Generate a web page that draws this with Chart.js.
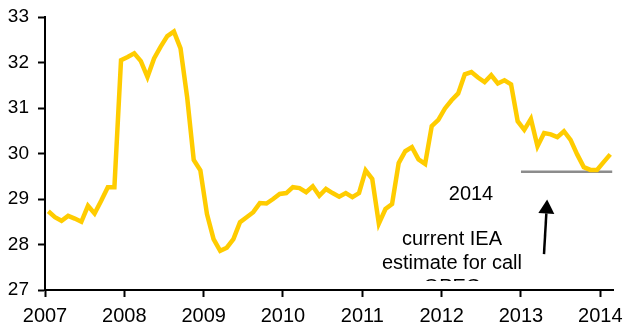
<!DOCTYPE html>
<html>
<head>
<meta charset="utf-8">
<script src="https://cdn.jsdelivr.net/npm/chart.js@4.4.0/dist/chart.umd.min.js"></script>
<style>
  html, body { margin: 0; padding: 0; background: #fff; }
</style>
</head>
<body>
<canvas id="opec-chart" width="628" height="326"></canvas>
<script>
// monthly series, starting Jan 2007
const firstYear = 2007;
const callOnOpec = [
  28.73, 28.60, 28.52, 28.63, 28.57, 28.50, 28.85, 28.68, 28.96, 29.26, 29.26, 32.05,
  32.12, 32.20, 32.03, 31.68, 32.09, 32.35, 32.58, 32.68, 32.31, 31.24, 29.86, 29.63,
  28.67, 28.12, 27.86, 27.93, 28.12, 28.49, 28.60, 28.71, 28.91, 28.90, 29.00, 29.11,
  29.13, 29.26, 29.24, 29.15, 29.28, 29.07, 29.22, 29.13, 29.05, 29.13, 29.04, 29.13,
  29.63, 29.44, 28.46, 28.78, 28.89, 29.79, 30.05, 30.14, 29.87, 29.77, 30.60, 30.74,
  30.99, 31.17, 31.32, 31.74, 31.79, 31.67, 31.57, 31.72, 31.54, 31.61, 31.52, 30.71,
  30.52, 30.76, 30.16, 30.45, 30.42, 30.36, 30.49, 30.30, 29.98, 29.70, 29.64, 29.64,
  29.81, 29.98
];

// IEA estimate for 2014 (flat line)
const ieaYears = [2013.0, 2014.15];
const ieaValue = 29.6;

const xTicks = [2007, 2008, 2009, 2010, 2011, 2012, 2013, 2014];
const yTicks = [27, 28, 29, 30, 31, 32, 33];

const FONT = '"Liberation Sans", Arial, sans-serif';

const seriesPoints = callOnOpec.map((v, i) => ({ x: firstYear + (i + 0.5) / 12, y: v }));
const ieaPoints = ieaYears.map((yr) => ({ x: yr, y: ieaValue }));

// text and arrow drawn over the plot
const notesPlugin = {
  id: 'notes',
  afterDatasetsDraw(chart) {
    const { ctx, scales: { x, y } } = chart;
    ctx.save();
    ctx.fillStyle = '#000';
    ctx.font = '20px ' + FONT;
    ctx.textAlign = 'center';
    ctx.textBaseline = 'middle';

    ctx.fillText('2014', x.getPixelForValue(2012.37), y.getPixelForValue(29.1));
    ctx.fillText('current IEA', x.getPixelForValue(2012.13), y.getPixelForValue(28.11));
    ctx.fillText('estimate for call', x.getPixelForValue(2012.13), y.getPixelForValue(27.58));

    // last line is cut off in the original
    ctx.save();
    ctx.beginPath();
    ctx.rect(0, 0, chart.width, y.getPixelForValue(27.2));
    ctx.clip();
    ctx.fillText('OPEC', x.getPixelForValue(2012.13), y.getPixelForValue(27.05));
    ctx.restore();

    // arrow pointing up at the estimate line
    const x0 = x.getPixelForValue(2013.29), y0 = y.getPixelForValue(27.79);
    const x1 = x.getPixelForValue(2013.33), y1 = y.getPixelForValue(28.99);
    const ang = Math.atan2(y1 - y0, x1 - x0);
    const headLen = 14, headW = 8;
    const bx = x1 - headLen * Math.cos(ang), by = y1 - headLen * Math.sin(ang);
    ctx.strokeStyle = '#000';
    ctx.lineWidth = 2.5;
    ctx.beginPath();
    ctx.moveTo(x0, y0);
    ctx.lineTo(bx, by);
    ctx.stroke();
    ctx.beginPath();
    ctx.moveTo(x1, y1);
    ctx.lineTo(bx + headW * Math.sin(ang), by - headW * Math.cos(ang));
    ctx.lineTo(bx - headW * Math.sin(ang), by + headW * Math.cos(ang));
    ctx.closePath();
    ctx.fill();
    ctx.restore();
  }
};

const axisGrid = {
  display: true,
  drawOnChartArea: false,
  drawTicks: true,
  tickLength: 7,
  tickWidth: 2,
  color: '#000',
};

new Chart(document.getElementById('opec-chart'), {
  type: 'line',
  data: {
    datasets: [
      {
        label: 'Call on OPEC',
        data: seriesPoints,
        borderColor: '#FFCC00',
        borderWidth: 4.5,
        pointRadius: 0,
        tension: 0,
        fill: false,
      },
      {
        label: 'IEA estimate',
        data: ieaPoints,
        borderColor: '#8c8c8c',
        borderWidth: 2.5,
        pointRadius: 0,
        fill: false,
      },
    ],
  },
  options: {
    responsive: false,
    animation: false,
    devicePixelRatio: 1,
    layout: { padding: { top: 17, right: 15, left: 0, bottom: 0 } },
    plugins: {
      legend: { display: false },
      tooltip: { enabled: false },
    },
    scales: {
      x: {
        type: 'linear',
        min: 2007,
        max: 2014.16,
        afterBuildTicks: (s) => { s.ticks = xTicks.map((v) => ({ value: v })); },
        afterFit: (s) => { s.height = 36; s.paddingLeft = 0; s.paddingRight = 0; },
        grid: axisGrid,
        border: { display: true, color: '#000', width: 2 },
        ticks: {
          color: '#000',
          font: { family: FONT, size: 20 },
          padding: 7,
          maxRotation: 0,
          autoSkip: false,
          callback: (v) => String(v),
        },
      },
      y: {
        min: 27,
        max: 33,
        afterBuildTicks: (s) => { s.ticks = yTicks.map((v) => ({ value: v })); },
        afterFit: (s) => { s.width = 45; s.paddingTop = 0; s.paddingBottom = 0; },
        grid: axisGrid,
        border: { display: true, color: '#000', width: 2 },
        ticks: {
          color: '#000',
          font: { family: FONT, size: 19 },
          padding: 9,
          callback: (v) => String(v),
        },
      },
    },
  },
  plugins: [notesPlugin],
});
</script>
</body>
</html>
